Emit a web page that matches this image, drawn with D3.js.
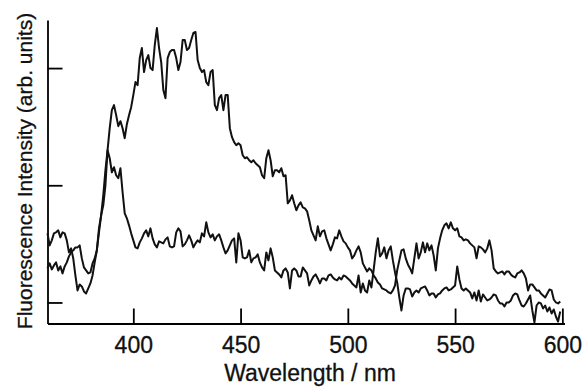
<!DOCTYPE html>
<html>
<head>
<meta charset="utf-8">
<script src="https://cdn.jsdelivr.net/npm/d3@7"></script>
<style>
  html, body { margin: 0; padding: 0; background: #fff; }
  svg { display: block; }
</style>
</head>
<body>
<div id="chart"></div>
<script>
// wavelength grid, 1 nm steps
const wavelengths = d3.range(360, 601);

// broad emission band (peak ~410-430 nm, shoulder ~550 nm)
const bandA = [
  90,78,83,90,91,93,86,91,90,83,
  71,75,65,48,33,39,37,32,30,35,
  40,48,61,73,91,108,128,153,173,195,
  213,218,208,197,202,195,185,199,208,216,
  228,241,238,265,275,251,263,268,255,253,
  278,295,275,261,233,225,265,271,273,273,
  265,253,261,283,283,273,275,283,290,291,
  263,255,251,253,241,238,251,253,218,213,
  225,228,213,228,228,195,186,181,178,180,
  178,168,165,166,163,161,163,160,158,156,
  148,145,165,173,163,147,153,153,151,155,
  147,148,120,123,128,120,113,118,121,116,
  115,112,103,93,88,83,97,87,92,93,
  85,79,73,79,86,85,93,87,82,80,
  76,73,65,68,73,77,71,60,56,52,
  55,53,48,45,41,39,35,34,33,31,
  30,33,38,53,63,73,74,65,59,55,
  50,65,80,65,71,81,71,80,73,78,
  68,53,75,85,93,98,100,95,101,95,
  93,95,87,86,83,84,83,80,78,76,
  65,77,76,74,71,75,83,73,55,52,
  50,51,52,49,52,52,49,47,46,50,
  51,53,50,45,33,39,39,36,33,33,
  30,28,26,30,34,33,24,21,20,22
];

// narrow band (sharp peak ~388 nm)
const bandB = [
  55,60,54,58,61,53,57,50,57,61,
  67,71,73,76,76,78,65,56,53,50,
  51,60,65,73,95,108,118,138,173,165,
  151,156,148,145,155,131,110,105,98,90,
  83,76,75,81,85,90,93,87,95,85,
  79,76,82,81,80,84,86,77,76,77,
  91,95,92,77,79,83,88,83,76,80,
  83,81,90,87,101,91,86,89,83,87,
  89,83,76,70,73,78,83,85,61,90,
  83,66,65,66,73,61,65,66,69,61,
  56,53,71,63,75,66,53,51,49,46,
  53,55,51,35,53,55,53,47,47,56,
  53,50,38,43,47,49,45,40,45,45,
  43,48,49,46,44,43,46,44,48,47,
  45,43,40,38,36,48,31,40,33,31,
  43,36,53,71,85,67,70,76,65,73,
  77,63,51,41,26,13,28,35,35,34,
  27,31,33,31,35,36,37,33,28,30,
  30,26,29,30,33,35,36,33,34,36,
  38,57,44,35,33,35,33,31,25,31,
  23,33,22,29,26,23,24,26,29,28,
  23,20,20,17,21,21,23,28,30,29,
  23,18,17,20,24,28,13,1,18,21,
  20,15,18,12,16,10,14,7,2,12
];

const xTicks = [400, 450, 500, 550, 600];
const yTicks = [21, 138, 255];

const width = 582, height = 389;
const font = '"Liberation Sans", Arial, Helvetica, sans-serif';

const svg = d3.select('#chart').append('svg')
  .attr('width', width)
  .attr('height', height)
  .attr('viewBox', [0, 0, width, height]);

const x = d3.scaleLinear().domain([360, 601]).range([47.5, 564.5]);
const y = d3.scaleLinear().domain([0, 303]).range([323.5, 20]);

// bottom axis, ticks pointing inward
const xAxis = svg.append('g')
  .attr('transform', 'translate(0,323.5)')
  .call(d3.axisBottom(x).tickValues(xTicks).tickSizeInner(-15).tickSizeOuter(0).tickPadding(13));
xAxis.select('.domain').attr('stroke-width', 1.8);
xAxis.selectAll('.tick line').attr('stroke-width', 1.8);
xAxis.selectAll('.tick text')
  .attr('font-family', font)
  .attr('font-size', '23px')
  .attr('fill', '#111')
  .attr('stroke', '#111')
  .attr('stroke-width', 0.3);

// left axis, no labels
const yAxis = svg.append('g')
  .attr('transform', 'translate(47.5,0)')
  .call(d3.axisLeft(y).tickValues(yTicks).tickSizeInner(-15).tickSizeOuter(0).tickFormat(''));
yAxis.select('.domain').attr('stroke-width', 1.8);
yAxis.selectAll('.tick line').attr('stroke-width', 1.8);

// spectra
const line = d3.line()
  .x((d, i) => x(wavelengths[i]))
  .y(d => y(d));

[bandA, bandB].forEach(series => {
  svg.append('path')
    .datum(series)
    .attr('fill', 'none')
    .attr('stroke', '#111')
    .attr('stroke-width', 2)
    .attr('stroke-linejoin', 'round')
    .attr('d', line);
});

// axis titles
svg.append('text')
  .attr('x', 310)
  .attr('y', 381)
  .attr('text-anchor', 'middle')
  .attr('font-family', font)
  .attr('font-size', '23px')
  .attr('fill', '#111')
  .attr('stroke', '#111')
  .attr('stroke-width', 0.3)
  .text('Wavelength / nm');

svg.append('text')
  .attr('transform', 'translate(32,171) rotate(-90)')
  .attr('text-anchor', 'middle')
  .attr('font-family', font)
  .attr('font-size', '21px')
  .attr('fill', '#111')
  .attr('stroke', '#111')
  .attr('stroke-width', 0.3)
  .text('Fluorescence Intensity (arb. units)');
</script>
</body>
</html>
